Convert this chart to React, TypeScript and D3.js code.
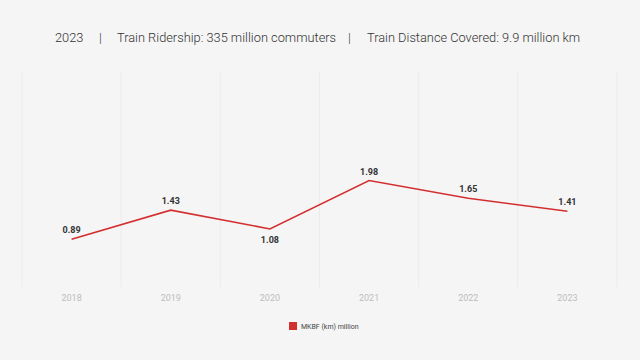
import * as React from "react";
import * as d3 from "d3";

const years = ["2018", "2019", "2020", "2021", "2022", "2023"];
const mkbf = [0.89, 1.43, 1.08, 1.98, 1.65, 1.41];
// label goes below the point for these years
const labelBelow = ["2020"];
const titleParts = [
  "2023",
  "|",
  "Train Ridership: 335 million commuters",
  "|",
  "Train Distance Covered: 9.9 million km",
];
const seriesName = "MKBF (km) million";

const W = 640;
const H = 360;
const FONT = "Roboto, 'Noto Sans', sans-serif";
const RED = "#d32f2f";

export default function App() {
  const x = d3.scaleBand<string>().domain(years).range([22, 617]);
  const y = d3.scaleLinear().domain([0, 4]).range([287, 72]);

  const pts = years.map((yr, i) => ({ yr, v: mkbf[i] }));
  const line = d3
    .line<{ yr: string; v: number }>()
    .x((d) => (x(d.yr) ?? 0) + x.bandwidth() / 2)
    .y((d) => y(d.v));

  const edges = [...years.map((yr) => x(yr) ?? 0), x.range()[1]];
  const titleX = [55, 99, 117, 348, 367];

  return (
    <div style={{ position: "fixed", left: 0, top: 0, width: W, height: H, background: "#f5f5f5" }}>
      <svg width={W} height={H} viewBox={`0 0 ${W} ${H}`} style={{ display: "block" }}>
        <rect width={W} height={H} fill="#f5f5f5" />

        <text y={42} fontFamily={FONT} fontSize={12.8} fill="#333" fontWeight={300}>
          {titleParts.map((t, i) => (
            <tspan key={i} x={titleX[i]}>
              {t}
            </tspan>
          ))}
        </text>

        {edges.map((ex, i) => (
          <line key={i} x1={ex} x2={ex} y1={y(4)} y2={y(0)} stroke="#ebebeb" strokeWidth={1} />
        ))}

        <path d={line(pts) ?? ""} fill="none" stroke={RED} strokeWidth={1.6} />

        {pts.map((d) => {
          const cx = (x(d.yr) ?? 0) + x.bandwidth() / 2;
          const below = labelBelow.includes(d.yr);
          return (
            <text
              key={d.yr}
              x={cx}
              y={below ? y(d.v) + 14 : y(d.v) - 6}
              textAnchor="middle"
              fontFamily={FONT}
              fontSize={9}
              fontWeight={700}
              fill="#333"
            >
              {d.v.toFixed(2)}
            </text>
          );
        })}

        {years.map((yr) => (
          <text
            key={yr}
            x={(x(yr) ?? 0) + x.bandwidth() / 2}
            y={301}
            textAnchor="middle"
            fontFamily={FONT}
            fontSize={9}
            fill="#bdbdbd"
          >
            {yr}
          </text>
        ))}

        <rect x={289} y={322} width={8} height={8} fill={RED} />
        <text x={301} y={329} fontFamily={FONT} fontSize={7} fill="#444">
          {seriesName}
        </text>
      </svg>
    </div>
  );
}
